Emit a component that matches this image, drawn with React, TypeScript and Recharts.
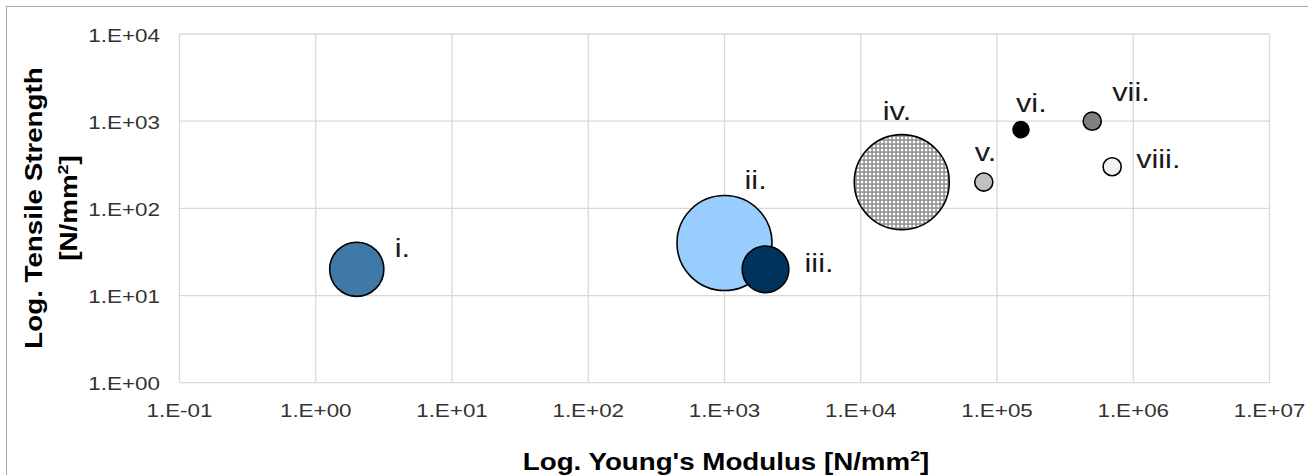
import React from 'react'
import { ScatterChart, Scatter, XAxis, YAxis, ZAxis, CartesianGrid } from 'recharts'

// data
const labels = ['i.', 'ii.', 'iii.', 'iv.', 'v.', 'vi.', 'vii.', 'viii.']
const youngsModulus = [2, 1000, 2000, 20000, 80000, 150000, 500000, 700000]
const tensileStrength = [20, 40, 20, 200, 200, 800, 1000, 300]
const bubbleSize = [8, 24, 6, 24, 1, 0.8, 1, 1]

const xTicks = [0.1, 1, 10, 100, 1e3, 1e4, 1e5, 1e6, 1e7]
const xTickLabels = ['1.E-01', '1.E+00', '1.E+01', '1.E+02', '1.E+03', '1.E+04', '1.E+05', '1.E+06', '1.E+07']
const yTicks = [1, 10, 100, 1000, 10000]
const yTickLabels = ['1.E+00', '1.E+01', '1.E+02', '1.E+03', '1.E+04']

// styling
const bubbleFills = ['#3e79a7', '#99ccff', '#00335e', 'url(#ivGrid)', '#c0c0c0', '#000000', '#808080', '#f2f2f2']
// label placement relative to bubble centre: [dx to left edge, dy to baseline]
const labelOffsets: [number, number][] = [
  [38, -12],
  [20, -54],
  [39, 3],
  [-19, -62],
  [-9, -21],
  [-5, -18],
  [20, -20],
  [24, 1],
]

const FONT = "'Liberation Sans', Arial, sans-serif"
const STRETCH = 1.18
const W = 1308
const H = 475
const MAX_R = 48.3

const data = labels.map((name, i) => ({
  name,
  idx: i,
  x: youngsModulus[i],
  y: tensileStrength[i],
  z: bubbleSize[i],
}))

function Bubble(props: any) {
  const { cx, cy, payload } = props
  const i = payload.idx
  const r = props.width ? props.width / 2 : Math.sqrt((props.size ?? 0) / Math.PI)
  const [dx, dy] = labelOffsets[i]
  return (
    <g>
      {i === 3 && (
        <defs>
          <pattern id="ivGrid" width={4} height={4} patternUnits="userSpaceOnUse">
            <rect width={4} height={4} fill="#8e8e8e" />
            <rect x={0.8} y={0.8} width={2.5} height={2.5} fill="#ffffff" />
          </pattern>
        </defs>
      )}
      <circle cx={cx} cy={cy} r={r - 0.8} fill={bubbleFills[i]} stroke="#000" strokeWidth={1.6} />
      <text
        transform={`translate(${cx + dx},${cy + dy}) scale(${STRETCH},1)`}
        fontSize={26}
        fontFamily={FONT}
        fill="#1a1a1a"
      >
        {payload.name}
      </text>
    </g>
  )
}

function XTick(props: any) {
  const { x, y, payload } = props
  const label = xTickLabels[xTicks.indexOf(payload.value)]
  return (
    <text
      transform={`translate(${x},${y + 34}) scale(${STRETCH},1)`}
      textAnchor="middle"
      fontSize={19}
      fontFamily={FONT}
      fill="#333"
    >
      {label}
    </text>
  )
}

function YTick(props: any) {
  const { x, y, payload } = props
  const label = yTickLabels[yTicks.indexOf(payload.value)]
  return (
    <text
      transform={`translate(${x - 19.5},${y + 7.5}) scale(${STRETCH},1)`}
      textAnchor="end"
      fontSize={19}
      fontFamily={FONT}
      fill="#333"
    >
      {label}
    </text>
  )
}

export default function App() {
  return (
    <div style={{ position: 'absolute', left: 0, top: 0, width: W, height: H, overflow: 'hidden', background: '#fff' }}>
      <div
        style={{
          position: 'absolute',
          left: 6,
          top: 6,
          width: W,
          height: H,
          borderLeft: '1.5px solid #a6a6a6',
          borderTop: '1.5px solid #a6a6a6',
        }}
      />
      <ScatterChart width={W} height={H} margin={{ top: 34, right: 38.5, bottom: 52.3, left: 0 }}>
        <CartesianGrid stroke="#d9d9d9" strokeWidth={1.3} />
        <XAxis
          type="number"
          dataKey="x"
          scale="log"
          domain={[0.1, 1e7]}
          ticks={xTicks}
          interval={0}
          allowDataOverflow
          axisLine={false}
          tickLine={false}
          tickSize={0}
          tickMargin={0}
          height={40}
          tick={XTick}
        />
        <YAxis
          type="number"
          dataKey="y"
          scale="log"
          domain={[1, 1e4]}
          ticks={yTicks}
          interval={0}
          allowDataOverflow
          axisLine={false}
          tickLine={false}
          tickSize={0}
          tickMargin={0}
          width={179.5}
          tick={YTick}
        />
        <ZAxis type="number" dataKey="z" domain={[0, 24]} range={[0, Math.PI * MAX_R * MAX_R]} />
        <Scatter data={data} shape={Bubble} isAnimationActive={false} />
      </ScatterChart>
      <svg width={W} height={H} style={{ position: 'absolute', left: 0, top: 0, pointerEvents: 'none' }}>
        <g fontFamily={FONT} fontWeight="bold" fontSize={23.5} fill="#000">
          <text transform={`translate(42,208) rotate(-90) scale(${STRETCH},1)`} textAnchor="middle">
            Log.  Tensile Strength
          </text>
          <text transform={`translate(77,208) rotate(-90) scale(${STRETCH},1)`} textAnchor="middle">
            [N/mm<tspan dy={-9} fontSize={15}>2</tspan>
            <tspan dy={9}>]</tspan>
          </text>
          <text transform={`translate(726,470) scale(${STRETCH},1)`} textAnchor="middle">
            Log. Young's Modulus [N/mm<tspan dy={-9} fontSize={15}>2</tspan>
            <tspan dy={9}>]</tspan>
          </text>
        </g>
      </svg>
    </div>
  )
}
